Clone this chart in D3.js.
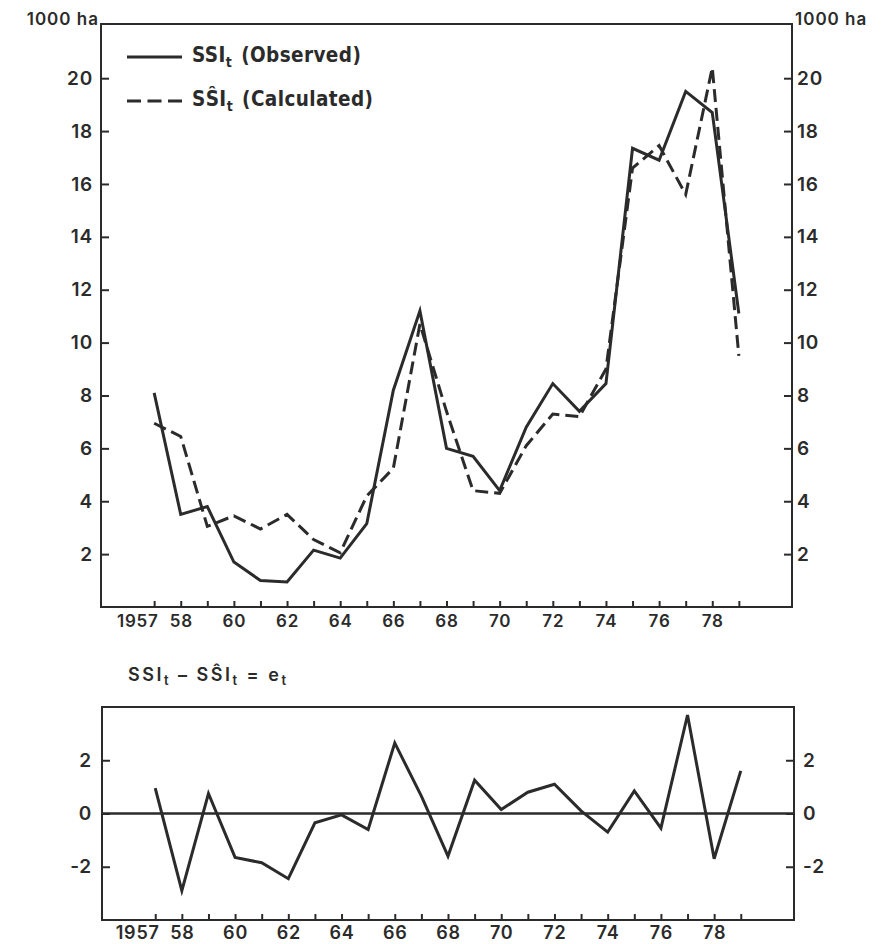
<!DOCTYPE html>
<html>
<head>
<meta charset="utf-8">
<script src="https://cdn.jsdelivr.net/npm/d3@7"></script>
<style>
  html, body { margin: 0; padding: 0; background: #ffffff; }
  svg { display: block; }
  .tick text { font-family: Inter, Lato, sans-serif; font-weight: 600; fill: #2b2b2b; letter-spacing: 0.8px; }
  .legend { font-family: "DejaVu Sans Condensed", "DejaVu Sans", sans-serif; font-stretch: condensed; font-weight: bold; fill: #2b2b2b; }
</style>
</head>
<body>
<svg id="chart" width="890" height="944"></svg>
<script>
// Hectares (thousands), observed and model-calculated, 1957–1979
const years = [1957, 1958, 1959, 1960, 1961, 1962, 1963, 1964, 1965, 1966, 1967, 1968,
               1969, 1970, 1971, 1972, 1973, 1974, 1975, 1976, 1977, 1978, 1979];
const observed = [8.1, 3.5, 3.8, 1.7, 1.0, 0.95, 2.15, 1.85, 3.15, 8.2, 11.2, 6.0,
                  5.7, 4.4, 6.8, 8.45, 7.4, 8.45, 17.35, 16.9, 19.5, 18.7, 11.1];
const calculated = [6.95, 6.45, 3.05, 3.45, 2.95, 3.5, 2.55, 2.05, 4.2, 5.25, 10.7, 7.4,
                    4.4, 4.3, 6.1, 7.3, 7.2, 9.0, 16.6, 17.45, 15.6, 20.4, 9.5];
// Residuals e_t = SSI_t - SŜI_t
const residuals = [0.95, -2.9, 0.75, -1.65, -1.85, -2.45, -0.35, -0.05, -0.6, 2.65, 0.65, -1.6,
                   1.25, 0.15, 0.8, 1.1, 0.1, -0.7, 0.85, -0.55, 3.7, -1.7, 1.6];

// Tick labels
const yearLabels = {1957: "1957", 1958: "58", 1960: "60", 1962: "62", 1964: "64", 1966: "66",
                    1968: "68", 1970: "70", 1972: "72", 1974: "74", 1976: "76", 1978: "78"};
const topYTicks = [2, 4, 6, 8, 10, 12, 14, 16, 18, 20];
const bottomYTicks = [-2, 0, 2];

const ink = "#2b2b2b";
const svg = d3.select("#chart");
const plain = d => String(d);   // keeps an ASCII hyphen for negatives

// ---------- upper panel ----------
const xTop = d3.scaleLinear().domain([1955, 1981]).range([101, 792]);
const yTop = d3.scaleLinear().domain([0, 22.05]).range([607, 24]);

function styleAxis(g, size) {
  g.select(".domain").remove();
  g.selectAll(".tick line").attr("stroke", ink).attr("stroke-width", 2);
  g.selectAll(".tick text").style("font-size", size + "px");
}

function xLabel(d) { return yearLabels[d] || ""; }

function drawXAxis(g, x, yPos, fontSize, pad) {
  g.attr("transform", `translate(0,${yPos})`)
    .call(d3.axisBottom(x).tickValues(years).tickFormat(xLabel).tickSize(-6).tickPadding(pad))
    .call(s => styleAxis(s, fontSize));
  g.selectAll(".tick text").filter(d => d === 1957).attr("text-anchor", "end").attr("dx", "4px");
}

svg.append("g").attr("transform", "translate(101,0)")
  .call(d3.axisLeft(yTop).tickValues(topYTicks).tickFormat(plain).tickSize(-8).tickPadding(8))
  .call(g => styleAxis(g, 19));
svg.append("g").attr("transform", "translate(792,0)")
  .call(d3.axisRight(yTop).tickValues(topYTicks).tickFormat(plain).tickSize(-8).tickPadding(5))
  .call(g => styleAxis(g, 19));
drawXAxis(svg.append("g"), xTop, 607, 17, 8);

svg.append("rect")
  .attr("x", xTop.range()[0]).attr("y", yTop.range()[1])
  .attr("width", xTop.range()[1] - xTop.range()[0])
  .attr("height", yTop.range()[0] - yTop.range()[1])
  .attr("fill", "none").attr("stroke", ink).attr("stroke-width", 2);

const unitStyle = t => t.attr("font-family", "Inter, Lato, sans-serif").attr("font-weight", 600)
  .attr("font-size", 17).attr("fill", ink).attr("letter-spacing", 1);
svg.append("text").attr("x", 99).attr("y", 25).attr("text-anchor", "end").text("1000 ha").call(unitStyle);
svg.append("text").attr("x", 795).attr("y", 25).text("1000 ha").call(unitStyle);

const lineTop = (vals) => d3.line().x((d, i) => xTop(years[i])).y(d => yTop(d))(vals);

svg.append("path").attr("d", lineTop(calculated))
  .attr("fill", "none").attr("stroke", ink).attr("stroke-width", 3)
  .attr("stroke-dasharray", "13,6").attr("stroke-linejoin", "miter");
svg.append("path").attr("d", lineTop(observed))
  .attr("fill", "none").attr("stroke", ink).attr("stroke-width", 3)
  .attr("stroke-linejoin", "miter");

// legend
const legend = [
  {y: 57, dash: null, a: "SSI", b: "(Observed)"},
  {y: 101, dash: "14,6.5", a: "SŜI", b: "(Calculated)"}
];
legend.forEach(l => {
  svg.append("line").attr("x1", 127).attr("x2", 182).attr("y1", l.y).attr("y2", l.y)
    .attr("stroke", ink).attr("stroke-width", 3.2).attr("stroke-dasharray", l.dash);
  const t = svg.append("text").attr("class", "legend").attr("x", 192).attr("y", l.y + 4.5)
    .attr("font-size", 20.5).attr("letter-spacing", 0.4);
  t.append("tspan").text(l.a);
  t.append("tspan").attr("font-size", 14).attr("dy", 5).text("t");
  t.append("tspan").attr("dy", -5).attr("dx", 9).text(l.b);
});

// ---------- lower panel: residuals ----------
const xBot = d3.scaleLinear().domain([1955, 1981]).range([102, 794]);
const yBot = d3.scaleLinear().domain([-4, 4]).range([920, 707]);

svg.append("g").attr("transform", "translate(102,0)")
  .call(d3.axisLeft(yBot).tickValues(bottomYTicks).tickFormat(plain).tickSize(-8).tickPadding(10))
  .call(g => styleAxis(g, 19));
svg.append("g").attr("transform", "translate(794,0)")
  .call(d3.axisRight(yBot).tickValues(bottomYTicks).tickFormat(plain).tickSize(-8).tickPadding(9))
  .call(g => styleAxis(g, 19));
drawXAxis(svg.append("g"), xBot, 920, 18, 6);

svg.append("rect")
  .attr("x", xBot.range()[0]).attr("y", yBot.range()[1])
  .attr("width", xBot.range()[1] - xBot.range()[0])
  .attr("height", yBot.range()[0] - yBot.range()[1])
  .attr("fill", "none").attr("stroke", ink).attr("stroke-width", 2);

svg.append("line")
  .attr("x1", xBot.range()[0]).attr("x2", xBot.range()[1])
  .attr("y1", yBot(0)).attr("y2", yBot(0))
  .attr("stroke", ink).attr("stroke-width", 2.5);

svg.append("path")
  .attr("d", d3.line().x((d, i) => xBot(years[i])).y(d => yBot(d))(residuals))
  .attr("fill", "none").attr("stroke", ink).attr("stroke-width", 3)
  .attr("stroke-linejoin", "miter");

// residual panel heading
const title = svg.append("text").attr("x", 128).attr("y", 681)
  .attr("font-family", "Inter, Lato, sans-serif").attr("font-weight", 600).attr("font-size", 18)
  .attr("fill", ink).attr("letter-spacing", 2.5);
title.append("tspan").text("SSI");
title.append("tspan").attr("font-size", 13).attr("dy", 4).text("t");
title.append("tspan").attr("dy", -4).text(" – SŜI");
title.append("tspan").attr("font-size", 13).attr("dy", 4).text("t");
title.append("tspan").attr("dy", -4).text(" = e");
title.append("tspan").attr("font-size", 13).attr("dy", 4).text("t");
</script>
</body>
</html>
